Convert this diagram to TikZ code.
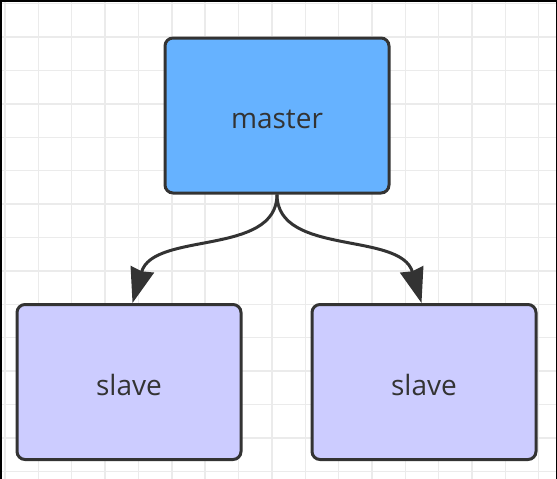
\documentclass[tikz,border=0pt]{standalone}
\usepackage{fontspec}
\setmainfont{Open Sans}
\usetikzlibrary{arrows.meta,calc}
\definecolor{masterblue}{HTML}{66B2FF}
\definecolor{slavepurple}{HTML}{CCCCFF}
\definecolor{edgegray}{HTML}{333333}
\definecolor{gridgray}{HTML}{EBEBEB}
\tikzset{
  box/.style={draw=edgegray, line width=3pt, rounded corners=8pt,
    minimum width=224pt, minimum height=155pt, inner sep=0pt,
    text height=26pt, text depth=0pt,
    text=edgegray, font=\fontsize{28}{32}\selectfont},
  edge/.style={draw=edgegray, line width=3pt,
    -{Stealth[length=35pt,width=24pt,inset=2pt]}},
  gridline/.style={draw=gridgray, line width=1.4pt},
  frame/.style={draw=black, line width=3pt}
}
\begin{document}
\begin{tikzpicture}[x=1pt,y=-1pt]
  \useasboundingbox (0,0) rectangle (557,479);
  \fill[white] (0,0) rectangle (557,479);
  % grid
  \foreach \i in {0,...,16} {
    \draw[gridline] ({5+33.36*\i},0) -- ({5+33.36*\i},479);
  }
  \foreach \j in {0,...,14} {
    \draw[gridline] (0,{3.6+33.4*\j}) -- (557,{3.6+33.4*\j});
  }
  % frame
  \draw[frame] (0,479) -- (0,0) -- (557,0) -- (557,479);
  % nodes
  \node[box, fill=masterblue] (master) at (277,115.5) {master};
  \node[box, fill=slavepurple] (sl) at (129,382) {slave};
  \node[box, fill=slavepurple] (sr) at (424,382) {slave};
  % edges
  \draw[edge] (master.south) .. controls ($(master.south)+(0,62)$) and ($([xshift=3.5pt]sl.north)+(21,-72)$) .. ([xshift=3.5pt]sl.north);
  \draw[edge] (master.south) .. controls ($(master.south)+(0,62)$) and ($([xshift=-2.5pt]sr.north)+(-21,-72)$) .. ([xshift=-2.5pt]sr.north);
\end{tikzpicture}
\end{document}
